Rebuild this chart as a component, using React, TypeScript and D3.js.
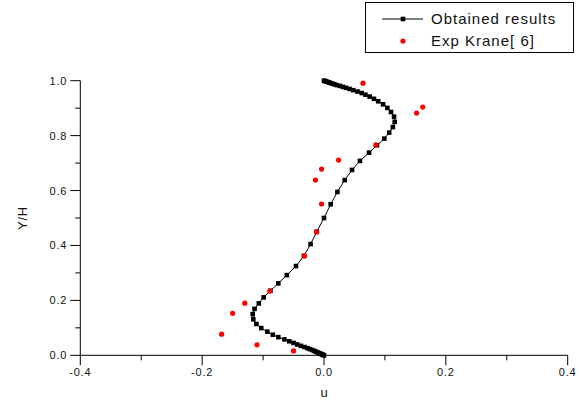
import React from "react";
import * as d3 from "d3";

// Computed profile: wall-normal position Y/H (grid clustered at both walls) and velocity u
const simY = [
  0, 0.001, 0.0025, 0.004, 0.006, 0.008, 0.0105, 0.013, 0.016, 0.019, 0.0225,
  0.026, 0.03, 0.0345, 0.0395, 0.045, 0.051, 0.058, 0.066, 0.075, 0.086, 0.099,
  0.114, 0.131, 0.15, 0.169, 0.189, 0.211, 0.235, 0.262, 0.292, 0.325, 0.362,
  0.405, 0.45, 0.5, 0.55, 0.595, 0.638, 0.675, 0.708, 0.738, 0.765, 0.789, 0.811,
  0.831, 0.85, 0.869, 0.886, 0.901, 0.914, 0.925, 0.934, 0.942, 0.949, 0.955,
  0.9605, 0.9655, 0.97, 0.974, 0.9775, 0.981, 0.984, 0.987, 0.9895, 0.992, 0.994,
  0.996, 0.9975, 0.999, 1.0,
];
const simU = [
  0, -0.001, -0.0025, -0.004, -0.006, -0.008, -0.0105, -0.013, -0.016, -0.019,
  -0.023, -0.027, -0.032, -0.038, -0.044, -0.05, -0.057, -0.065, -0.075, -0.084,
  -0.093, -0.103, -0.111, -0.116, -0.117, -0.114, -0.107, -0.099, -0.088, -0.075,
  -0.061, -0.046, -0.033, -0.022, -0.012, 0.0, 0.011, 0.022, 0.034, 0.046, 0.059,
  0.074, 0.087, 0.099, 0.107, 0.113, 0.116, 0.115, 0.11, 0.104, 0.097, 0.089,
  0.082, 0.075, 0.068, 0.062, 0.055, 0.048, 0.042, 0.036, 0.031, 0.026, 0.021,
  0.017, 0.0135, 0.01, 0.0078, 0.0052, 0.0032, 0.0013, 0,
];

// Experimental data (Krane)
const expY = [
  0.991, 0.904, 0.882, 0.766, 0.711, 0.678, 0.638, 0.551, 0.449, 0.362, 0.234,
  0.19, 0.153, 0.077, 0.038, 0.016,
];
const expU = [
  0.064, 0.162, 0.152, 0.085, 0.024, -0.004, -0.014, -0.004, -0.012, -0.032,
  -0.089, -0.13, -0.15, -0.168, -0.11, -0.05,
];

const xTicks = [-0.4, -0.2, 0.0, 0.2, 0.4];
const yTicks = [0.0, 0.2, 0.4, 0.6, 0.8, 1.0];
const xMinor = [-0.3, -0.1, 0.1, 0.3];
const yMinor = [0.1, 0.3, 0.5, 0.7, 0.9];

const legendLabels = ["Obtained results", "Exp Krane[ 6]"];

const W = 579;
const H = 405;
const FONT = "'Liberation Sans', Arial, sans-serif";

export default function App() {
  const x = d3.scaleLinear().domain([-0.4, 0.4]).range([80.3, 567.7]);
  const y = d3.scaleLinear().domain([0, 1]).range([355.3, 80.7]);

  const simPts: [number, number][] = simY.map((v, i) => [simU[i], v]);
  const line = d3
    .line<[number, number]>()
    .x((d) => x(d[0]))
    .y((d) => y(d[1]));

  const x0 = x(-0.4);
  const yb = y(0);
  const ms = 4.6;

  return (
    <svg
      width={W}
      height={H}
      style={{ position: "absolute", left: 0, top: 0, background: "#fff" }}
      fontFamily={FONT}
    >
      <rect x={0} y={0} width={W} height={H} fill="#fff" />

      {/* axes */}
      <line x1={x0} x2={x0} y1={y(1)} y2={yb} stroke="#000" strokeWidth={1} />
      <line x1={x0} x2={x(0.4)} y1={yb} y2={yb} stroke="#000" strokeWidth={1} />

      {xTicks.map((t) => (
        <g key={"xt" + t}>
          <line x1={x(t)} x2={x(t)} y1={yb} y2={yb + 10} stroke="#000" />
          <text
            x={x(t)}
            y={yb + 21}
            fontSize={11}
            letterSpacing={0.8}
            textAnchor="middle"
            fill="#111"
          >
            {t.toFixed(1)}
          </text>
        </g>
      ))}
      {xMinor.map((t) => (
        <line key={"xm" + t} x1={x(t)} x2={x(t)} y1={yb} y2={yb + 5} stroke="#000" />
      ))}

      {yTicks.map((t) => (
        <g key={"yt" + t}>
          <line x1={x0 - 10} x2={x0} y1={y(t)} y2={y(t)} stroke="#000" />
          <text
            x={x0 - 13}
            y={y(t) + 4}
            fontSize={11}
            letterSpacing={0.8}
            textAnchor="end"
            fill="#111"
          >
            {t.toFixed(1)}
          </text>
        </g>
      ))}
      {yMinor.map((t) => (
        <line key={"ym" + t} x1={x0 - 5} x2={x0} y1={y(t)} y2={y(t)} stroke="#000" />
      ))}

      <text x={x(0)} y={397} fontSize={13} textAnchor="middle" fill="#111">
        u
      </text>
      <text
        transform={`translate(27,${(y(0) + y(1)) / 2}) rotate(-90)`}
        fontSize={13}
        letterSpacing={0.8}
        textAnchor="middle"
        fill="#111"
      >
        Y/H
      </text>

      {/* computed profile */}
      <path d={line(simPts) || ""} fill="none" stroke="#000" strokeWidth={1} />
      {simPts.map((d, i) => (
        <rect
          key={"s" + i}
          x={x(d[0]) - ms / 2}
          y={y(d[1]) - ms / 2}
          width={ms}
          height={ms}
          fill="#000"
        />
      ))}

      {/* experiment */}
      {expY.map((v, i) => (
        <circle key={"e" + i} cx={x(expU[i])} cy={y(v)} r={2.6} fill="#ff0000" />
      ))}

      {/* legend */}
      <rect x={365.5} y={2.5} width={208} height={50} fill="#fff" stroke="#000" />
      <line x1={382} x2={423} y1={19} y2={19} stroke="#000" />
      <rect x={403 - ms / 2} y={19 - ms / 2} width={ms} height={ms} fill="#000" />
      <circle cx={403} cy={41} r={2.6} fill="#ff0000" />
      <text x={431} y={24} fontSize={15} letterSpacing={1} fill="#111">
        {legendLabels[0]}
      </text>
      <text x={431} y={46} fontSize={15} letterSpacing={1} fill="#111">
        {legendLabels[1]}
      </text>
    </svg>
  );
}
